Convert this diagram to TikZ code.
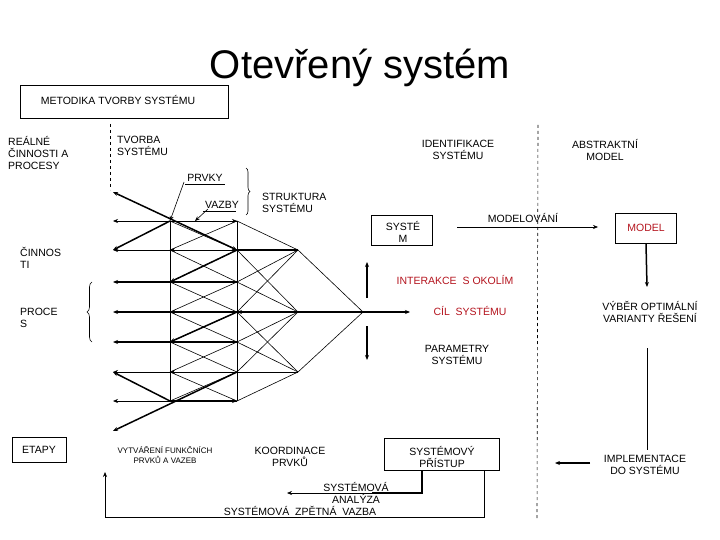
\documentclass[tikz,border=0pt]{standalone}
\usepackage{fontspec}
\setmainfont{Liberation Sans}
\usetikzlibrary{arrows.meta,decorations.pathreplacing}
\definecolor{redt}{RGB}{180,20,30}
\begin{document}
\begin{tikzpicture}[x=1pt,y=-1pt,
  txt/.style={font=\fontsize{10.5}{12}\selectfont,align=center,inner sep=0pt},
  lt/.style={txt,align=left},
  box/.style={draw,line width=0.7pt},
  thin/.style={line width=0.6pt},
  thk/.style={line width=1.5pt},
  arr/.style={-{Stealth[length=5pt,width=4pt]}},
  dsh/.style={dashed,line width=0.6pt}]
\useasboundingbox (0,0) rectangle (720,540);
\node[font=\fontsize{40}{44}\selectfont] (title) at (360,68) {Otevřený systém};
\node[box,minimum width=208,minimum height=33,anchor=north west,inner sep=0pt] (met) at (20,85) {};
\node[txt] (metT) at (118,100) {METODIKA TVORBY SYSTÉMU};
\node[lt,anchor=north west] (real) at (8,136) {REÁLNÉ\\ČINNOSTI A\\PROCESY};
\node[lt,anchor=north west] (tvor) at (117,136) {TVORBA\\SYSTÉMU};
\node[txt] (ident) at (458,150) {IDENTIFIKACE\\SYSTÉMU};
\node[txt] (abst) at (605,150) {ABSTRAKTNÍ\\MODEL};
\coordinate (d1) at (110,124); \coordinate (d2) at (110,190);
\draw[dsh] (d1) -- (d2);
\coordinate (d3) at (538,125); \coordinate (d4) at (537,518);
\draw[dsh] (d3) -- (d4);
\foreach \i/\y in {0/221,1/250,2/282,3/312,4/342,5/372,6/401}{
  \coordinate (L\i) at (113,\y);
  \coordinate (A\i) at (170,\y);
  \coordinate (B\i) at (237,\y);}
\coordinate (C1) at (298,250); \coordinate (C3) at (298,312); \coordinate (C5) at (298,372);
\coordinate (P) at (363,312);
\coordinate (Ltop) at (113,192); \coordinate (Lbot) at (113,431);
\foreach \i in {0,1,5,6}{\draw[thin,arr] (B\i) -- (L\i);}
\foreach \i in {2,4}{\draw[thk,arr] (B\i) -- (L\i);}
\draw[thk,arr] (P) -- (L3);
\draw[thk] (B1) -- (C1); \draw[thin] (B5) -- (C5);
\draw[thin] (A0) -- (A6); \draw[thin] (B0) -- (B6);
\foreach \i/\j in {0/1,1/2,2/3,3/4,4/5,5/6}{
  \draw[thin] (A\i) -- (B\j); \draw[thin] (B\i) -- (A\j);}
\foreach \b/\c in {0/1,2/1,3/1,1/3,2/3,4/3,5/3,3/5,4/5,6/5}{\draw[thin] (B\b) -- (C\c);}
\draw[thin] (C1) -- (P) -- (C5);
\draw[thk,{Stealth[length=5pt,width=4pt]}-{Stealth[length=5pt,width=4pt]}] (Ltop) -- (B1);
\draw[thk,arr] (A0) -- (L1);
\draw[thk,arr] (B1) -- (A2);
\draw[thk,arr] (B3) -- (A4);
\draw[thk,arr] (A6) -- (L5);
\draw[thk,arr] (B5) -- (Lbot);
\draw[thin,arr] (A0) -- (B0);
\draw[thin,arr] (B1) -- (A1); \draw[thin,arr] (B3) -- (A3); \draw[thin,arr] (B5) -- (A5);
\draw[thk,arr] (C3) -- (B3);
\draw[thk,arr] (A6) -- (B6);
\coordinate (u1) at (367,298); \coordinate (u2) at (367,262);
\coordinate (v1) at (367,326); \coordinate (v2) at (367,360);
\coordinate (cil) at (410,312);
\draw[thk,arr] (u1) -- (u2); \draw[thk,arr] (v1) -- (v2);
\draw[thk,arr] (P) -- (cil);
\node[txt] (prvky) at (205,178) {PRVKY};
\node[txt] (vazby) at (222,205) {VAZBY};
\draw[thin] (prvky.south west) ++(-2,2) -- ++(40,0);
\draw[thin] (vazby.south west) ++(-2,2) -- ++(33,0);
\coordinate (pv) at (184,182); \coordinate (vz) at (208,209);
\draw[thin,arr] (pv) -- (A0);
\coordinate (vzt) at (195,221);
\draw[thin,arr] (vz) -- (vzt);
\draw[thin,decorate,decoration={brace,amplitude=4pt}] (246,168) -- (246,215);
\node[lt,anchor=west] (strk) at (262,203) {STRUKTURA\\SYSTÉMU};
\node[lt,anchor=west] (cinn) at (20,258) {ČINNOS\\TI};
\node[lt,anchor=west] (proc) at (20,318) {PROCE\\S};
\draw[thin,decorate,decoration={brace,amplitude=5pt}] (92,342) -- (92,282);
\node[box,minimum width=61,minimum height=30,inner sep=0pt] (sys) at (402,230) {};
\node[txt] (sysT) at (403,232) {SYSTÉ\\M};
\node[box,minimum width=61,minimum height=30,inner sep=0pt,text=redt,font=\fontsize{10.5}{12}\selectfont] (model) at (646,228) {MODEL};
\coordinate (m1) at (457,227); \coordinate (m2) at (598,227);
\draw[thin,arr] (m1) -- (m2);
\node[txt] (modl) at (523,218) {MODELOVÁNÍ};
\coordinate (vyb) at (647,287);
\draw[thk,arr] (model.south) -- (vyb);
\node[txt] (vybT) at (650,312) {VÝBĚR OPTIMÁLNÍ\\VARIANTY ŘEŠENÍ};
\coordinate (il1) at (647,348); \coordinate (il2) at (647,450);
\draw[thin] (il1) -- (il2);
\node[txt] (impl) at (645,465) {IMPLEMENTACE\\DO SYSTÉMU};
\coordinate (ia1) at (590,463); \coordinate (ia2) at (555,463);
\draw[thk,arr] (ia1) -- (ia2);
\node[txt,text=redt] (inter) at (455,280) {INTERAKCE\ \ S OKOLÍM};
\node[txt,text=redt] (cilT) at (470,311) {CÍL\ \ SYSTÉMU};
\node[txt] (param) at (457,355) {PARAMETRY\\SYSTÉMU};
\node[box,minimum width=54,minimum height=25,inner sep=0pt] (etapy) at (39,450) {};
\node[txt] (etT) at (39,450) {ETAPY};
\node[txt,font=\fontsize{8}{10}\selectfont] (vytv) at (165,455) {VYTVÁŘENÍ FUNKČNÍCH\\PRVKŮ A VAZEB};
\node[txt] (koord) at (290,457) {KOORDINACE\\PRVKŮ};
\node[box,minimum width=115,minimum height=32,inner sep=0pt] (pris) at (442,454) {};
\node[txt] (prT) at (442,457) {SYSTÉMOVÝ\\PŘÍSTUP};
\coordinate (sa1) at (422,470); \coordinate (sa2) at (422,493); \coordinate (sa3) at (287,493);
\draw[thk] (sa1) -- (sa2) -- (372,493);
\draw[thin,arr] (372,493) -- (sa3);
\node[txt] (sanal) at (356,493) {SYSTÉMOVÁ\\ANALÝZA};
\coordinate (zv1) at (484,470); \coordinate (zv2) at (484,517); \coordinate (zv3) at (105,517); \coordinate (zv4) at (105,472);
\draw[thin,arr] (zv1) -- (zv2) -- (zv3) -- (zv4);
\node[txt] (zvT) at (300,511) {SYSTÉMOVÁ\ \ ZPĚTNÁ\ \ VAZBA};
\end{tikzpicture}
\end{document}
